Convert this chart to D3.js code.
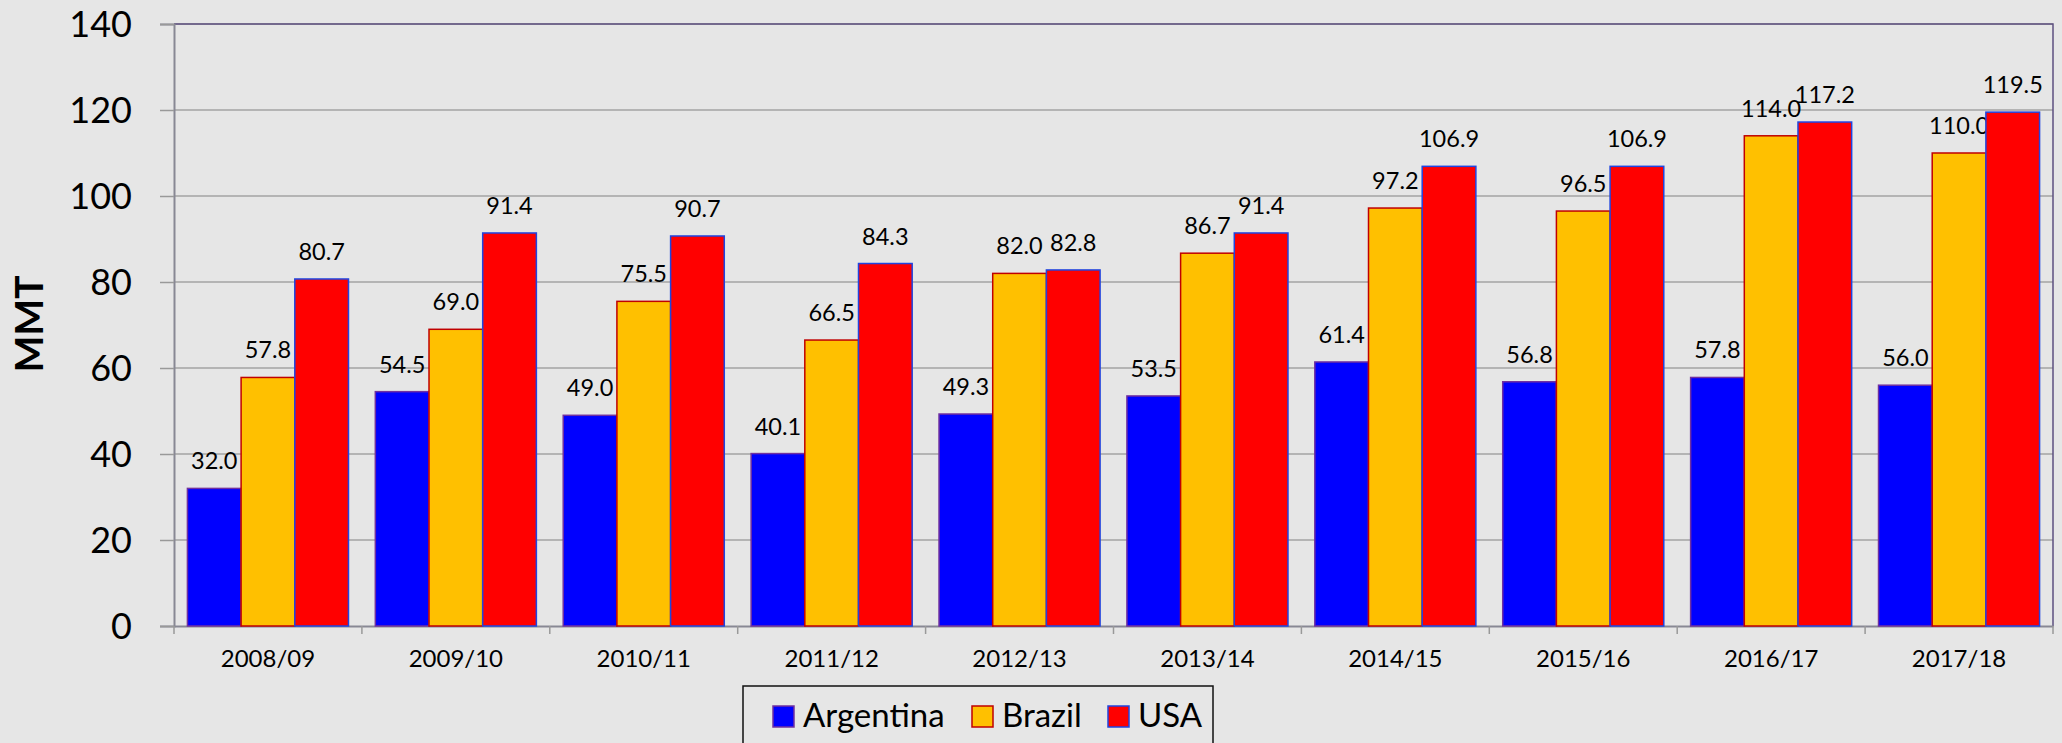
<!DOCTYPE html>
<html>
<head>
<meta charset="utf-8">
<script src="https://cdn.jsdelivr.net/npm/d3@7"></script>
<style>
  body { margin: 0; background: #e6e6e6; }
  svg { display: block; font-family: Lato, "Open Sans", sans-serif; }
</style>
</head>
<body>
<div id="chart"></div>
<script>
// chart data
var seasons = ["2008/09","2009/10","2010/11","2011/12","2012/13","2013/14","2014/15","2015/16","2016/17","2017/18"];
var series = ["Argentina","Brazil","USA"];
var argentina = [32.0, 54.5, 49.0, 40.1, 49.3, 53.5, 61.4, 56.8, 57.8, 56.0];
var brazil    = [57.8, 69.0, 75.5, 66.5, 82.0, 86.7, 97.2, 96.5, 114.0, 110.0];
var usa       = [80.7, 91.4, 90.7, 84.3, 82.8, 91.4, 106.9, 106.9, 117.2, 119.5];
var yTicks = [0, 20, 40, 60, 80, 100, 120, 140];

var values = {Argentina: argentina, Brazil: brazil, USA: usa};
var fill   = {Argentina: "#0000ff", Brazil: "#ffc000", USA: "#ff0000"};
var edge   = {Argentina: "#7030a0", Brazil: "#c00000", USA: "#1f45e0"};

var w = 2062,
    h = 743;
var margin = {top: 24, right: 9, bottom: 117, left: 174};

var svg = d3.select("#chart")
            .append("svg")
            .attr("width", w)
            .attr("height", h);

svg.append("rect").attr("width", w).attr("height", h).attr("fill", "#e6e6e6");

var x0 = d3.scaleBand()
           .domain(seasons)
           .range([margin.left, w - margin.right]);

var x1 = d3.scaleBand()
           .domain(series)
           .range([0, x0.bandwidth()])
           .paddingOuter(0.25);

var y = d3.scaleLinear()
          .domain([0, 140])
          .range([h - margin.bottom, margin.top]);

// gridlines
svg.append("g")
   .selectAll("line")
   .data(yTicks.slice(1))
   .enter()
   .append("line")
   .attr("x1", margin.left)
   .attr("x2", w - margin.right)
   .attr("y1", function(d){ return y(d); })
   .attr("y2", function(d){ return y(d); })
   .attr("stroke", "#a3a3a3")
   .attr("stroke-width", 1.5);

// plot border (top/right)
svg.append("path")
   .attr("d", "M" + margin.left + "," + y(140) + "H" + (w - margin.right) + "V" + y(0))
   .attr("fill", "none")
   .attr("stroke", "#5e5080")
   .attr("stroke-width", 1.5);

// y axis
var yAxis = svg.append("g")
   .attr("transform", "translate(" + margin.left + ",0)")
   .call(d3.axisLeft(y).tickValues(yTicks).tickSize(14).tickPadding(28));
yAxis.select(".domain").attr("stroke", "#888894").attr("stroke-width", 2);
yAxis.selectAll(".tick line").attr("stroke", "#999").attr("stroke-width", 1.5);
yAxis.selectAll("text")
     .attr("font-family", "Lato, sans-serif")
     .attr("font-size", "36px")
     .attr("fill", "#000")
     .attr("dy", "0.36em");

// x axis
var xAxis = svg.append("g")
   .attr("transform", "translate(0," + y(0) + ")")
   .call(d3.axisBottom(x0).tickSize(0).tickPadding(24));
xAxis.select(".domain").attr("stroke", "#888894").attr("stroke-width", 2);
xAxis.selectAll("text")
     .attr("font-family", "Lato, sans-serif")
     .attr("font-size", "24px")
     .attr("fill", "#000");

// category boundary ticks
var bounds = seasons.map(function(s){ return x0(s); }).concat([x0(seasons[seasons.length-1]) + x0.step()]);
svg.append("g")
   .selectAll("line")
   .data(bounds)
   .enter()
   .append("line")
   .attr("x1", function(d){ return d; })
   .attr("x2", function(d){ return d; })
   .attr("y1", y(0))
   .attr("y2", y(0) + 8)
   .attr("stroke", "#999")
   .attr("stroke-width", 1.5);

// bars
var groups = svg.append("g")
   .selectAll("g")
   .data(seasons)
   .enter()
   .append("g")
   .attr("transform", function(d){ return "translate(" + x0(d) + ",0)"; });

var cells = groups.selectAll("g")
   .data(function(d, i){ return series.map(function(s){ return {key: s, value: values[s][i]}; }); })
   .enter()
   .append("g");

cells.append("rect")
   .attr("x", function(d){ return x1(d.key); })
   .attr("width", x1.bandwidth())
   .attr("y", function(d){ return y(d.value); })
   .attr("height", function(d){ return y(0) - y(d.value); })
   .attr("fill", function(d){ return fill[d.key]; })
   .attr("stroke", function(d){ return edge[d.key]; })
   .attr("stroke-width", 1.5);

cells.append("text")
   .attr("x", function(d){ return x1(d.key) + x1.bandwidth() / 2; })
   .attr("y", function(d){ return y(d.value) - 19; })
   .attr("text-anchor", "middle")
   .attr("font-size", "23.5px")
   .attr("fill", "#000")
   .text(function(d){ return d.value.toFixed(1); });

// y axis title
svg.append("text")
   .attr("transform", "translate(43,324) rotate(-90)")
   .attr("text-anchor", "middle")
   .attr("font-size", "39px")
   .attr("font-weight", "bold")
   .attr("fill", "#000")
   .text("MMT");

// legend
var legend = svg.append("g");
legend.append("rect")
   .attr("x", 743)
   .attr("y", 686)
   .attr("width", 470)
   .attr("height", 80)
   .attr("fill", "#e6e6e6")
   .attr("stroke", "#111")
   .attr("stroke-width", 1.5);

var legendX = [773, 972, 1108];
var items = legend.selectAll("g")
   .data(series)
   .enter()
   .append("g")
   .attr("transform", function(d, i){ return "translate(" + legendX[i] + ",706)"; });

items.append("rect")
   .attr("width", 21)
   .attr("height", 21)
   .attr("fill", function(d){ return fill[d]; })
   .attr("stroke", function(d){ return edge[d]; })
   .attr("stroke-width", 1.5);

items.append("text")
   .attr("x", 30)
   .attr("y", 21)
   .attr("font-size", "33px")
   .attr("fill", "#000")
   .text(function(d){ return d; });
</script>
</body>
</html>
